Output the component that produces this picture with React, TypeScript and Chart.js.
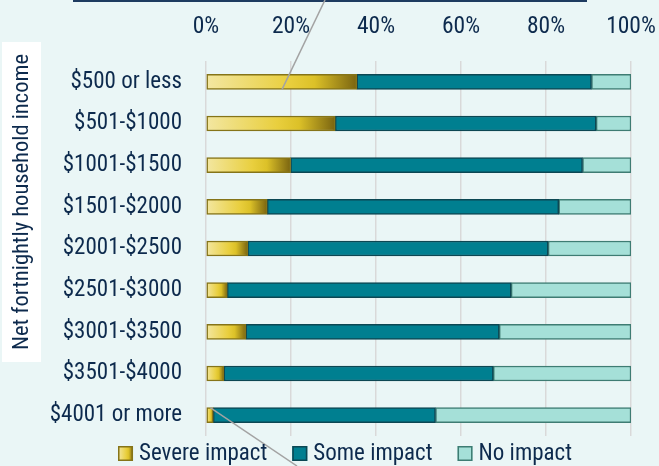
import React, { useEffect, useRef } from 'react';
import { Chart, registerables } from 'chart.js';

Chart.register(...registerables);

const categories = [
  '$500 or less',
  '$501-$1000',
  '$1001-$1500',
  '$1501-$2000',
  '$2001-$2500',
  '$2501-$3000',
  '$3001-$3500',
  '$3501-$4000',
  '$4001 or more',
];
const severeImpact = [35.5, 30.4, 19.9, 14.4, 9.8, 5.0, 9.4, 4.2, 1.7];
const someImpact = [55.2, 61.4, 68.7, 68.6, 70.7, 66.8, 59.6, 63.4, 52.3];
const noImpact = [9.3, 8.2, 11.4, 17.0, 19.5, 28.2, 31.0, 32.4, 46.0];
const seriesNames = ['Severe impact', 'Some impact', 'No impact'];
const xTickValues = [0, 20, 40, 60, 80, 100];
const yAxisTitle = 'Net fortnightly household income';

const FONT = "'Roboto Condensed', 'DejaVu Sans Condensed', sans-serif";
const NAVY = '#0d2a4d';
const BG = '#eaf6f6';

const severeFill = (chart: any, x0: number, x1: number) => {
  const g = chart.ctx.createLinearGradient(x0, 0, x1, 0);
  g.addColorStop(0, '#f3e7a2');
  g.addColorStop(0.55, '#e9cf3e');
  g.addColorStop(0.72, '#dcc128');
  g.addColorStop(1, '#7a6410');
  return g;
};

const fills = ['#e6c92e', '#007f90', '#a5e0d8'];
const borders = ['#857418', '#0c4753', '#3e7c73'];

const decorPlugin = {
  id: 'decor',
  beforeDraw(chart: any) {
    const { ctx, width, height } = chart;
    ctx.save();
    ctx.fillStyle = BG;
    ctx.fillRect(0, 0, width, height);
    ctx.fillStyle = '#ffffff';
    ctx.fillRect(2, 42, 39, 320);
    ctx.restore();
  },
  afterDraw(chart: any) {
    const { ctx, scales } = chart;
    const xs = scales.x;
    const ys = scales.y;
    ctx.save();
    // y axis title
    ctx.translate(22, 202);
    ctx.rotate(-Math.PI / 2);
    ctx.fillStyle = NAVY;
    ctx.font = `22.5px ${FONT}`;
    ctx.textAlign = 'center';
    ctx.textBaseline = 'middle';
    ctx.fillText(yAxisTitle, 0, 0);
    ctx.restore();

    // navy rule at top
    ctx.save();
    ctx.fillStyle = '#1d3b60';
    ctx.fillRect(73, 0, 514, 2);

    // callout lines
    const half = 7.5;
    ctx.strokeStyle = '#a3a3a3';
    ctx.lineWidth = 1.5;
    ctx.beginPath();
    ctx.moveTo(325, 0);
    ctx.lineTo(xs.getPixelForValue(17.9), ys.getPixelForValue(0) + half);
    ctx.stroke();
    ctx.beginPath();
    ctx.moveTo(xs.getPixelForValue(1.0), ys.getPixelForValue(categories.length - 1) - half);
    ctx.lineTo(297, 466);
    ctx.stroke();
    ctx.restore();

    // legend
    ctx.save();
    ctx.font = `23px ${FONT}`;
    ctx.textBaseline = 'middle';
    ctx.textAlign = 'left';
    const box = 15;
    const gap = 6;
    const spacing = 25;
    const widths = seriesNames.map((n) => ctx.measureText(n).width);
    const total = widths.reduce((a, w) => a + box + gap + w, 0) + spacing * (seriesNames.length - 1);
    let x = 345 - total / 2;
    const cy = 453.5;
    seriesNames.forEach((name, i) => {
      const bx = x;
      const by = cy - box / 2;
      ctx.fillStyle = i === 0 ? severeFill(chart, bx, bx + box) : fills[i];
      ctx.fillRect(bx, by, box, box);
      ctx.strokeStyle = borders[i];
      ctx.lineWidth = 1.5;
      ctx.strokeRect(bx + 0.75, by + 0.75, box - 1.5, box - 1.5);
      ctx.fillStyle = NAVY;
      ctx.fillText(name, bx + box + gap, cy + 1);
      x += box + gap + widths[i] + spacing;
    });
    ctx.restore();
  },
};

export default function App() {
  const canvasRef = useRef<HTMLCanvasElement | null>(null);

  useEffect(() => {
    document.body.style.margin = '0';
    document.body.style.background = BG;
    const canvas = canvasRef.current;
    if (!canvas) return;
    Chart.defaults.font.family = FONT;

    const chart = new Chart(canvas, {
      type: 'bar',
      data: {
        labels: categories,
        datasets: [
          {
            label: seriesNames[0],
            data: severeImpact,
            backgroundColor: (c: any) => {
              const ch = c.chart;
              if (!ch.chartArea || c.raw == null) return fills[0];
              const x0 = ch.scales.x.getPixelForValue(0);
              const x1 = ch.scales.x.getPixelForValue(c.raw);
              return severeFill(ch, x0, Math.max(x1, x0 + 1));
            },
            borderColor: borders[0],
          },
          {
            label: seriesNames[1],
            data: someImpact,
            backgroundColor: fills[1],
            borderColor: borders[1],
          },
          {
            label: seriesNames[2],
            data: noImpact,
            backgroundColor: fills[2],
            borderColor: borders[2],
          },
        ],
      },
      options: {
        indexAxis: 'y',
        responsive: false,
        animation: false,
        events: [],
        datasets: {
          bar: {
            barThickness: 15,
            borderWidth: 1.5,
            borderSkipped: false,
          },
        },
        layout: { padding: { top: 0, left: 0, right: 0, bottom: 30 } },
        plugins: {
          legend: { display: false },
          tooltip: { enabled: false },
        },
        scales: {
          x: {
            position: 'top',
            stacked: true,
            min: 0,
            max: 100,
            afterFit: (s: any) => {
              s.height = 61;
              s.paddingLeft = 0;
              s.paddingRight = 28;
            },
            afterBuildTicks: (s: any) => {
              s.ticks = xTickValues.map((v) => ({ value: v }));
            },
            ticks: {
              color: NAVY,
              font: { size: 23.5 },
              padding: 20,
              maxRotation: 0,
              callback: (v: any) => `${v}%`,
            },
            grid: {
              color: '#d9d9d9',
              lineWidth: 1.5,
              drawTicks: false,
            },
            border: { display: false },
          },
          y: {
            stacked: true,
            afterFit: (s: any) => {
              s.width = 206;
              s.paddingTop = 0;
              s.paddingBottom = 0;
            },
            ticks: {
              color: NAVY,
              font: { size: 23 },
              padding: 24,
            },
            grid: { display: false, drawTicks: false },
            border: { display: false },
          },
        },
      },
      plugins: [decorPlugin],
    });
    return () => chart.destroy();
  }, []);

  return (
    <div style={{ width: 659, height: 466 }}>
      <canvas ref={canvasRef} width={659} height={466} style={{ display: 'block' }} />
    </div>
  );
}
